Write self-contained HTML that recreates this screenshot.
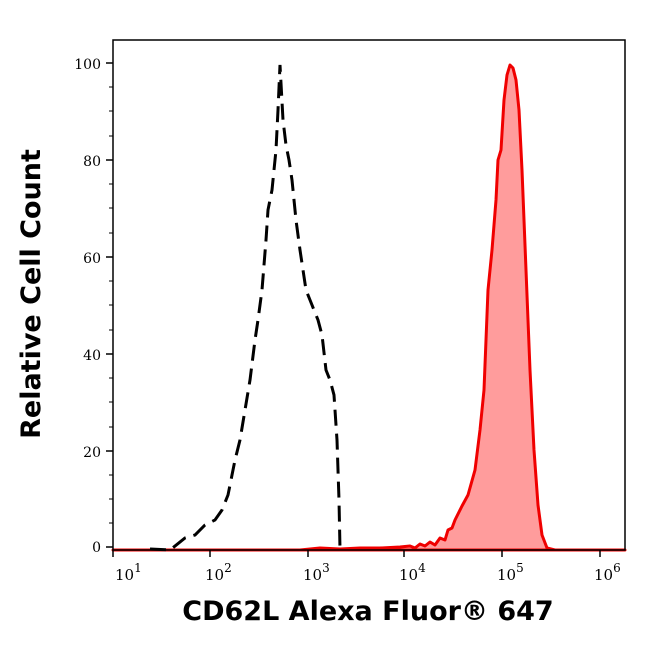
<!DOCTYPE html>
<html><head><style>body{margin:0;background:#fff}</style></head><body>
<svg width="646" height="641" viewBox="0 0 646 641" xmlns="http://www.w3.org/2000/svg">
<rect width="646" height="641" fill="#fff"/>
<path d="M113,550 L300,550 L320,548 L340,549 L360,548 L380,548 L400,547 L410,546 L415,548 L420,544 L425,546 L430,542 L435,545 L440,538 L445,540 L448,530 L452,528 L455,520 L462,506 L468,495 L475,470 L480,430 L484,390 L488,290 L492,250 L496,200 L498,160 L501,150 L504,100 L507,75 L510,65 L513,68 L516,80 L519,110 L522,170 L526,270 L530,370 L534,450 L538,505 L542,535 L547,548 L555,550 L625,550 Z" fill="#ff9c9c" stroke="#f00000" stroke-width="3" stroke-linejoin="round"/>
<path d="M150,549 L170,550 L185,538 L195,535 L205,525 L215,520 L222,510 L228,495 L235,460 L240,440 L245,410 L250,380 L255,340 L258,320 L262,290 L266,240 L268,210 L272,190 L276,150 L278,110 L280,65 L283,120 L286,145 L289,160 L292,180 L296,220 L300,250 L303,270 L306,290 L310,300 L314,310 L318,320 L322,335 L326,370 L330,380 L334,395 L337,440 L339,500 L340,549" fill="none" stroke="#000" stroke-width="3" stroke-dasharray="16,8"/>
<rect x="113" y="40" width="512" height="510" fill="none" stroke="#000" stroke-width="1.5"/>
<g stroke="#000" stroke-width="1.5">
<line x1="106" y1="63" x2="113" y2="63"/><line x1="106" y1="160" x2="113" y2="160"/><line x1="106" y1="257" x2="113" y2="257"/><line x1="106" y1="354" x2="113" y2="354"/><line x1="106" y1="451" x2="113" y2="451"/><line x1="106" y1="547" x2="113" y2="547"/>
<line x1="113" y1="550" x2="113" y2="557"/><line x1="210" y1="550" x2="210" y2="557"/><line x1="308" y1="550" x2="308" y2="557"/><line x1="404" y1="550" x2="404" y2="557"/><line x1="502" y1="550" x2="502" y2="557"/><line x1="600" y1="550" x2="600" y2="557"/>
</g>
<g stroke="#000" stroke-width="1">
<line x1="109" y1="87" x2="113" y2="87"/><line x1="109" y1="111" x2="113" y2="111"/><line x1="109" y1="136" x2="113" y2="136"/>
<line x1="109" y1="184" x2="113" y2="184"/><line x1="109" y1="208" x2="113" y2="208"/><line x1="109" y1="233" x2="113" y2="233"/>
<line x1="109" y1="281" x2="113" y2="281"/><line x1="109" y1="305" x2="113" y2="305"/><line x1="109" y1="330" x2="113" y2="330"/>
<line x1="109" y1="378" x2="113" y2="378"/><line x1="109" y1="402" x2="113" y2="402"/><line x1="109" y1="427" x2="113" y2="427"/>
<line x1="109" y1="475" x2="113" y2="475"/><line x1="109" y1="499" x2="113" y2="499"/><line x1="109" y1="523" x2="113" y2="523"/>
</g>
<g id="minor" stroke="#000" stroke-width="1"></g>
<g font-family="DejaVu Serif, Liberation Serif, serif" font-size="14" fill="#000" text-anchor="end">
<text x="101" y="69">100</text><text x="101" y="166">80</text><text x="101" y="263">60</text><text x="101" y="360">40</text><text x="101" y="457">20</text><text x="101" y="552">0</text>
</g>
<g font-family="DejaVu Serif, Liberation Serif, serif" font-size="15" fill="#000">
<text x="115" y="580">10<tspan font-size="12" dy="-8">1</tspan></text>
<text x="205" y="580">10<tspan font-size="12" dy="-8">2</tspan></text>
<text x="303" y="580">10<tspan font-size="12" dy="-8">3</tspan></text>
<text x="399" y="580">10<tspan font-size="12" dy="-8">4</tspan></text>
<text x="497" y="580">10<tspan font-size="12" dy="-8">5</tspan></text>
<text x="594" y="580">10<tspan font-size="12" dy="-8">6</tspan></text>
</g>
<text x="368" y="620" text-anchor="middle" font-family="DejaVu Sans, sans-serif" font-weight="bold" font-size="27">CD62L Alexa Fluor® 647</text>
<text transform="translate(40,294) rotate(-90)" text-anchor="middle" font-family="DejaVu Sans, sans-serif" font-weight="bold" font-size="27">Relative Cell Count</text>
<script>
var g=document.getElementById('minor'),s='';
for(var d=0;d<5;d++){var b=113+d*97.4;for(var k=2;k<10;k++){var x=b+Math.log10(k)*97.4;s+='<line x1="'+x+'" y1="550" x2="'+x+'" y2="554"/>';}}
g.innerHTML=s;
</script>
</svg>
</body></html>
